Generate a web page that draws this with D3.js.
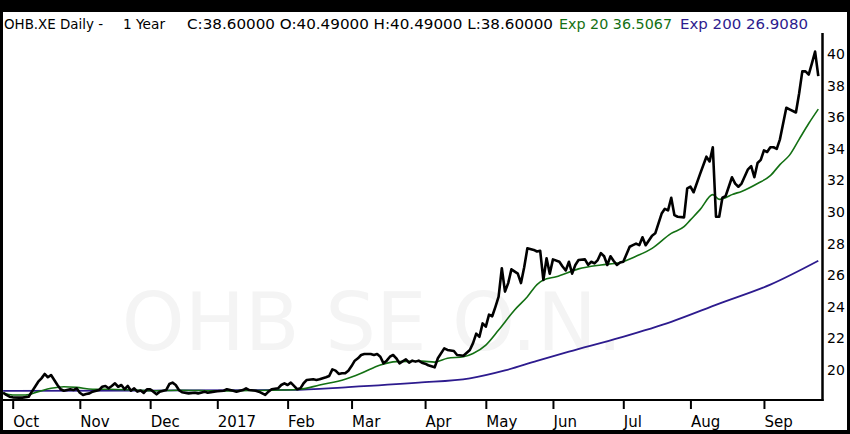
<!DOCTYPE html>
<html>
<head>
  <title>OHB.XE Daily - 1 Year</title>
  <meta charset="utf-8">
  <script src="https://cdn.jsdelivr.net/npm/d3@7"></script>
  <style>
    body { margin: 0; background: #000; }
    svg { display: block; font-family: "DejaVu Sans", Verdana, sans-serif; }
  </style>
</head>
<body>
<script>

// closing prices, [trading day, close]; day 0 = first bar of the year window
var closeSeries = [
  [0,18.56],[1,18.42],[2,18.31],[3,18.27],[5,18.25],[6,18.25],[8,18.31],[9,18.63],[10,18.94],
  [11,19.26],[12,19.47],[13,19.75],[14,19.54],[15,19.68],[16,19.37],[17,19.05],[18,18.78],[19,18.69],
  [21,18.78],[22,18.73],[23,18.84],[24,18.56],[25,18.42],[26,18.48],[27,18.52],[28,18.63],[30,18.73],
  [31,18.94],[32,18.99],[33,18.84],[34,18.99],[35,19.16],[36,18.94],[37,19.05],[38,18.78],[39,18.99],
  [40,18.69],[41,18.84],[42,18.63],[43,18.7],[44,18.55],[45,18.78],[46,18.78],[47,18.63],[48,18.46],
  [49,18.63],[51,18.73],[52,19.11],[53,19.2],[54,19.05],[55,18.73],[56,18.59],[58,18.52],[60,18.56],
  [61,18.52],[63,18.63],[64,18.56],[66,18.63],[67,18.65],[69,18.69],[70,18.78],[72,18.69],[73,18.63],
  [75,18.73],[76,18.84],[77,18.73],[79,18.69],[80,18.63],[82,18.42],[83,18.63],[84,18.78],[86,18.84],
  [87,19.05],[88,19.16],[89,19.05],[90,19.2],[91,18.99],[92,18.78],[93,18.84],[94,19.16],[95,19.37],
  [97,19.41],[98,19.37],[99,19.41],[101,19.54],[102,19.62],[103,20.04],[104,19.96],[105,19.75],
  [106,19.79],[107,19.79],[108,19.96],[109,20.25],[110,20.59],[111,20.74],[112,20.95],[113,21.01],
  [115,21.01],[116,20.95],[117,21.01],[118,20.84],[119,20.42],[120,20.59],[121,20.84],[122,20.95],
  [123,20.74],[124,20.42],[126,20.68],[127,20.46],[128,20.59],[129,20.53],[130,20.59],[131,20.46],
  [132,20.4],[133,20.3],[135,20.17],[136,20.74],[138,21.37],[139,21.27],[141,21.2],[142,20.95],
  [144,20.9],[146,21.27],[147,21.7],[148,22.3],[149,22.1],[150,22.95],[151,22.74],[152,23.5],
  [153,23.4],[154,24.0],[155,24.64],[156,26.44],[157,24.96],[158,25.5],[159,26.37],[161,26.1],
  [162,25.5],[163,26.5],[164,27.7],[166,27.6],[167,27.5],[168,27.55],[169,25.7],[170,27.07],
  [171,26.1],[172,27.0],[174,26.85],[175,26.55],[176,26.3],[177,26.85],[178,26.1],[179,26.65],
  [180,26.96],[182,27.0],[183,26.65],[184,26.85],[185,26.75],[186,26.96],[187,27.4],[188,27.2],
  [189,26.65],[190,27.2],[191,26.9],[192,26.65],[193,26.8],[194,26.85],[196,27.8],[197,27.9],
  [198,28.0],[199,27.9],[200,28.4],[201,27.9],[202,28.2],[203,28.5],[204,28.65],[206,29.9],
  [207,30.2],[208,30.1],[209,30.9],[210,29.8],[211,29.7],[213,29.66],[214,31.5],[215,31.6],
  [216,31.25],[218,32.4],[220,33.5],[221,33.2],[222,34.1],[223,29.7],[224,29.7],[225,30.9],
  [226,31.0],[227,31.6],[228,32.2],[229,31.8],[230,31.6],[231,31.8],[233,32.7],[234,32.9],
  [235,32.2],[236,33.1],[237,33.3],[238,33.9],[239,33.8],[240,34.1],[241,34.1],[242,34.0],
  [243,34.6],[245,36.6],[246,36.5],[248,36.3],[249,37.5],[250,38.9],[251,38.9],[252,38.7],
  [253,39.4],[254,40.15],[255,38.6]
];

// 20 day exponential average
var exp20Series = [
  [0,18.56],[3,18.42],[7,18.42],[11,18.63],[15,18.84],[19,18.94],[23,18.9],[28,18.78],[33,18.78],
  [41,18.73],[46,18.69],[55,18.72],[68,18.68],[77,18.7],[87,18.73],[93,18.78],[99,19.05],[107,19.41],
  [112,19.79],[118,20.32],[123,20.53],[128,20.55],[131,20.56],[135,20.5],[139,20.74],[144,20.84],
  [147,21.05],[151,21.58],[155,22.53],[160,23.8],[164,24.64],[167,25.4],[169,25.7],[173,25.9],
  [180,26.4],[187,26.65],[193,26.8],[198,27.2],[203,27.7],[209,28.65],[213,29.07],[215,29.5],
  [218,30.15],[222,31.1],[224,30.8],[226,30.9],[228,31.1],[231,31.3],[236,31.8],[240,32.3],
  [243,33.0],[246,33.6],[249,34.6],[252,35.6],[255,36.51]
];

// 200 day exponential average
var exp200Series = [
  [0,18.68],[45,18.7],[90,18.74],[108,18.92],[130,19.2],[146,19.47],[157,19.97],[167,20.58],
  [177,21.16],[193,22.05],[209,23.05],[224,24.2],[240,25.4],[255,26.91]
];

var monthLabels = ["Oct", "Nov", "Dec", "2017", "Feb", "Mar", "Apr", "May", "Jun", "Jul", "Aug", "Sep"];
var monthStartDays = [3, 24, 46, 67, 89, 109, 132, 151, 172, 194, 215, 238];
var priceTicks = [20, 22, 24, 26, 28, 30, 32, 34, 36, 38, 40];

var lastDay = 255;

var width = 850,
    height = 434;

var svg = d3.select("body").append("svg")
    .attr("width", width)
    .attr("height", height);

// black frame + white chart area
svg.append("rect").attr("width", width).attr("height", height).attr("fill", "#000");
svg.append("rect")
    .attr("x", 3).attr("y", 12)
    .attr("width", 844).attr("height", 418)
    .attr("fill", "#fff");

var x = d3.scaleLinear().domain([0, lastDay]).range([3.1, 818.3]);
var y = d3.scaleLinear().domain([20, 40]).range([370, 54]);

// faint watermark
svg.append("text")
    .attr("x", 372).attr("y", 350)
    .attr("text-anchor", "middle")
    .attr("font-size", 80)
    .attr("fill", "#f4f4f4")
    .text("OHB SE O.N.");

// lines
var line = d3.line()
    .x(function(d) { return x(d[0]); })
    .y(function(d) { return y(d[1]); });

var smooth = d3.line()
    .curve(d3.curveMonotoneX)
    .x(function(d) { return x(d[0]); })
    .y(function(d) { return y(d[1]); });

svg.append("path")
    .datum(exp200Series)
    .attr("d", smooth)
    .attr("fill", "none")
    .attr("stroke", "#2d1b8e")
    .attr("stroke-width", 1.8);

svg.append("path")
    .datum(exp20Series)
    .attr("d", smooth)
    .attr("fill", "none")
    .attr("stroke", "#137013")
    .attr("stroke-width", 1.6);

svg.append("path")
    .datum(closeSeries)
    .attr("d", line)
    .attr("fill", "none")
    .attr("stroke", "#000")
    .attr("stroke-width", 2.6)
    .attr("stroke-linejoin", "round");

// bottom axis (month starts)
var xAxis = d3.axisBottom(x)
    .tickValues(monthStartDays)
    .tickSize(9)
    .tickFormat(function(d, i) { return monthLabels[i]; });

var gx = svg.append("g")
    .attr("transform", "translate(0,400)")
    .call(xAxis);
gx.select(".domain").remove();
gx.selectAll(".tick line").attr("stroke", "#000").attr("stroke-width", 2);
gx.selectAll(".tick text")
    .attr("text-anchor", "start")
    .attr("x", 0)
    .attr("y", 27)
    .attr("dy", null)
    .attr("font-size", 15)
    .attr("font-family", "DejaVu Sans")
    .attr("fill", "#000");

svg.append("line")
    .attr("x1", 3).attr("x2", 823.5)
    .attr("y1", 400).attr("y2", 400)
    .attr("stroke", "#000").attr("stroke-width", 2);

// right price axis
var yAxis = d3.axisRight(y)
    .tickValues(priceTicks)
    .tickSize(0)
    .tickPadding(0);

var gy = svg.append("g")
    .attr("transform", "translate(827,0)")
    .call(yAxis);
gy.select(".domain").remove();
gy.selectAll(".tick text")
    .attr("font-size", 14)
    .attr("font-family", "DejaVu Sans")
    .attr("fill", "#000");

svg.append("line")
    .attr("x1", 822.5).attr("x2", 822.5)
    .attr("y1", 33).attr("y2", 401)
    .attr("stroke", "#000").attr("stroke-width", 2.5);

// header
var header = [
  { text: "OHB.XE Daily -", x: 4, w: 99, color: "#000" },
  { text: "1 Year", x: 123, w: 42, color: "#000" },
  { text: "C:38.60000 O:40.49000 H:40.49000 L:38.60000", x: 187, w: 366, color: "#000" },
  { text: "Exp 20 36.5067", x: 559, w: 113, color: "#137013" },
  { text: "Exp 200 26.9080", x: 680, w: 128, color: "#2d1b8e" }
];

svg.selectAll(".hdr")
    .data(header)
  .enter().append("text")
    .attr("class", "hdr")
    .attr("x", function(d) { return d.x; })
    .attr("y", 29)
    .attr("font-size", 14)
    .attr("textLength", function(d) { return d.w; })
    .attr("lengthAdjust", "spacingAndGlyphs")
    .attr("fill", function(d) { return d.color; })
    .text(function(d) { return d.text; });

</script>
</body>
</html>
